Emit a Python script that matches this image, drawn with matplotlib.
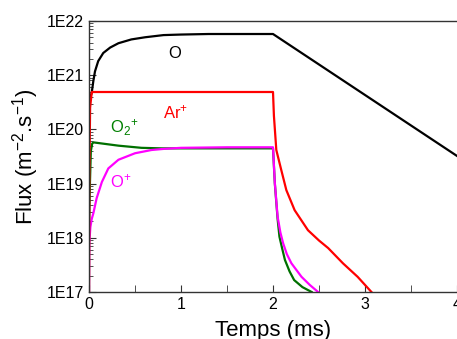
import numpy as np
import matplotlib
matplotlib.use("Agg")
import matplotlib.pyplot as plt
from matplotlib.ticker import LogLocator, FuncFormatter, MultipleLocator

plt.rcParams['font.family'] = ['Liberation Sans', 'DejaVu Sans']
plt.rcParams['mathtext.fontset'] = 'custom'
plt.rcParams['mathtext.rm'] = 'Liberation Sans'
plt.rcParams['mathtext.it'] = 'Liberation Sans'
plt.rcParams['mathtext.default'] = 'regular'

# values (time in ms, flux as log10)
t_O = [0.0, 0.01, 0.029, 0.047, 0.065, 0.10, 0.155, 0.23, 0.32, 0.46, 0.61, 0.81, 1.0, 1.3, 1.6, 2.0, 4.0]
log_O = [20.2, 20.58, 20.67, 20.89, 21.07, 21.26, 21.41, 21.51, 21.59, 21.66, 21.70, 21.74, 21.75, 21.76, 21.76, 21.76, 19.51]

t_Ar = [0.0, 0.004, 0.012, 0.03, 2.0, 2.01, 2.036, 2.09, 2.145, 2.235, 2.38, 2.5, 2.6, 2.76, 2.92, 3.07]
log_Ar = [17.0, 19.2, 20.4, 20.69, 20.69, 20.25, 19.62, 19.25, 18.88, 18.51, 18.14, 17.95, 17.81, 17.53, 17.28, 17.0]

t_O2 = [0.0, 0.01, 0.02, 0.035, 0.05, 0.32, 0.57, 0.79, 1.2, 2.0, 2.02, 2.05, 2.07, 2.1, 2.13, 2.18, 2.23, 2.32, 2.42]
log_O2 = [18.2, 19.0, 19.6, 19.74, 19.76, 19.70, 19.66, 19.65, 19.65, 19.65, 19.0, 18.35, 18.02, 17.80, 17.59, 17.38, 17.22, 17.09, 17.0]

t_Op = [0.0, 0.003, 0.015, 0.03, 0.047, 0.083, 0.14, 0.21, 0.32, 0.5, 0.68, 0.81, 1.0, 1.5, 2.0, 2.02, 2.05, 2.08, 2.11, 2.15, 2.2, 2.31, 2.4, 2.49]
log_Op = [17.0, 17.9, 18.2, 18.35, 18.45, 18.73, 19.03, 19.28, 19.44, 19.56, 19.62, 19.64, 19.66, 19.67, 19.67, 19.01, 18.39, 18.10, 17.90, 17.70, 17.53, 17.28, 17.13, 17.0]

fig = plt.figure(figsize=(4.57, 3.39), dpi=100)
ax = fig.add_axes([89 / 457, 1 - 292 / 339, 1 - 89 / 457, (292 - 21) / 339])

ax.plot(t_O, 10 ** np.array(log_O), color='black', lw=1.6)
ax.plot(t_O2, 10 ** np.array(log_O2), color='#007000', lw=1.6)
ax.plot(t_Op, 10 ** np.array(log_Op), color='#ff00ff', lw=1.6)
ax.plot(t_Ar, 10 ** np.array(log_Ar), color='#ff0000', lw=1.6)

ax.set_yscale('log')
ax.set_xlim(0, 4)
ax.set_ylim(1e17, 1e22)

ax.yaxis.set_major_locator(LogLocator(base=10, numticks=10))
ax.yaxis.set_minor_locator(LogLocator(base=10, subs=np.arange(2, 10), numticks=10))
ax.yaxis.set_major_formatter(FuncFormatter(lambda v, p: '1E%d' % round(np.log10(v))))
ax.xaxis.set_major_locator(MultipleLocator(1))
ax.xaxis.set_minor_locator(MultipleLocator(0.5))

for s in ax.spines.values():
    s.set_color('#333333')
    s.set_linewidth(1.0)
ax.spines['right'].set_visible(False)

ax.tick_params(which='both', direction='in', top=False, right=False, colors='#333333', labelcolor='black', labelsize=11.5)
ax.tick_params(which='major', length=5)
ax.tick_params(which='minor', length=3)
ax.tick_params(axis='y', which='minor', labelleft=False)
ax.tick_params(axis='x', which='minor', length=5)

ax.set_xlabel('Temps (ms)', fontsize=16, labelpad=6)
ax.set_ylabel('Flux (m$^{-2}$.s$^{-1}$)', fontsize=16, labelpad=4)

ax.text(0.86, 2.1e21, 'O', color='black', fontsize=12, ha='left', va='baseline')
ax.text(0.80, 1.6e20, 'Ar$^{+}$', color='#ff0000', fontsize=12, ha='left', va='baseline')
ax.text(0.228, 8.7e19, 'O$_{2}$$^{+}$', color='#008000', fontsize=12, ha='left', va='baseline')
ax.text(0.228, 8.7e18, 'O$^{+}$', color='#ff00ff', fontsize=12, ha='left', va='baseline')

fig.savefig('out.png', dpi=100)
